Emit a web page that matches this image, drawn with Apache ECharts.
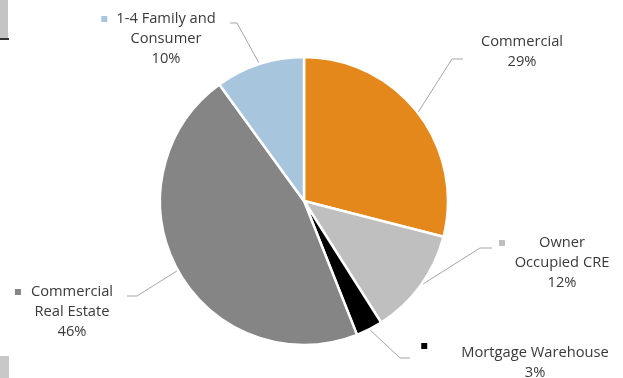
<!DOCTYPE html>
<html>
<head>
<meta charset="utf-8">
<script src="https://cdn.jsdelivr.net/npm/echarts@6/dist/echarts.min.js"></script>
<style>
html,body{margin:0;padding:0;background:#fff;}
#c{width:623px;height:378px;}
</style>
</head>
<body>
<div id="c"></div>
<script>
// ---- data ----
const categories = ['Commercial', 'Owner Occupied CRE', 'Mortgage Warehouse', 'Commercial Real Estate', '1-4 Family and Consumer'];
const values = [29, 12, 3, 46, 10];
const labelLines = [
  ['Commercial'],
  ['Owner', 'Occupied CRE'],
  ['Mortgage Warehouse'],
  ['Commercial', 'Real Estate'],
  ['1-4 Family and', 'Consumer']
];
const showKey = [false, true, true, true, true];

// ---- styles / layout ----
const colors = ['#E4881C', '#BFBFBF', '#000000', '#858585', '#A8C5DE'];
const keyGap = [10, 34, 34, 10, 9];
const keyAlign = ['middle', 'middle', 'top', 'middle', 'middle'];
const labelPos = [
  { x: 522, y: 32, bend: [452, 59], end: [463, 59] },
  { x: 562, y: 233, bend: [480, 248], end: [492, 248] },
  { x: 535, y: 343, bend: [400, 358], end: [410, 358] },
  { x: 72, y: 282, bend: [137, 296], end: [127, 296] },
  { x: 166, y: 9, bend: [237, 23], end: [230, 23] }
];

const rich = { t: { fontFamily: 'Open Sans', fontSize: 14.7, lineHeight: 20, color: '#3a3a3a' } };
categories.forEach((c, i) => {
  rich['m' + i] = { width: 6, height: 6, backgroundColor: colors[i], verticalAlign: keyAlign[i], lineHeight: 20 };
  rich['g' + i] = { width: keyGap[i], height: 6, lineHeight: 20 };
  rich['p' + i] = { width: keyGap[i] + 6, height: 6, lineHeight: 20 };
});

const chart = echarts.init(document.getElementById('c'), null, { renderer: 'canvas' });
chart.setOption({
  backgroundColor: '#ffffff',
  animation: false,
  graphic: [
    { type: 'rect', shape: { x: 0, y: 0, width: 8, height: 38 }, style: { fill: '#c4c4c4' } },
    { type: 'rect', shape: { x: 0, y: 38, width: 9, height: 2 }, style: { fill: '#333333' } },
    { type: 'rect', shape: { x: 0, y: 356, width: 9, height: 22 }, style: { fill: '#c8c8c8' } }
  ],
  series: [{
    type: 'pie',
    center: [304, 201],
    radius: 144,
    startAngle: 90,
    clockwise: true,
    avoidLabelOverlap: false,
    data: categories.map((c, i) => ({ name: c, value: values[i], itemStyle: { color: colors[i] } })),
    itemStyle: { borderColor: '#ffffff', borderWidth: 2.5 },
    emphasis: { disabled: true },
    label: {
      show: true,
      position: 'outside',
      align: 'center',
      rich: rich,
      formatter: function (p) {
        const i = p.dataIndex;
        const lines = labelLines[i].map(s => '{t|' + s + '}');
        if (showKey[i]) {
          lines[0] = '{m' + i + '|}{g' + i + '|}' + lines[0] + '{p' + i + '|}';
        }
        lines.push('{t|' + values[i] + '%}');
        return lines.join('\n');
      }
    },
    labelLine: {
      show: true,
      smooth: false,
      length: 10,
      length2: 10,
      lineStyle: { color: '#a6a6a6', width: 1 }
    },
    labelLayout: function (params) {
      const i = params.dataIndex;
      const L = labelPos[i];
      const out = { x: L.x, y: L.y, align: 'center', verticalAlign: 'top' };
      if (params.labelLinePoints && params.labelLinePoints[0]) {
        out.labelLinePoints = [params.labelLinePoints[0], L.bend, L.end];
      }
      return out;
    }
  }]
});
</script>
</body>
</html>
